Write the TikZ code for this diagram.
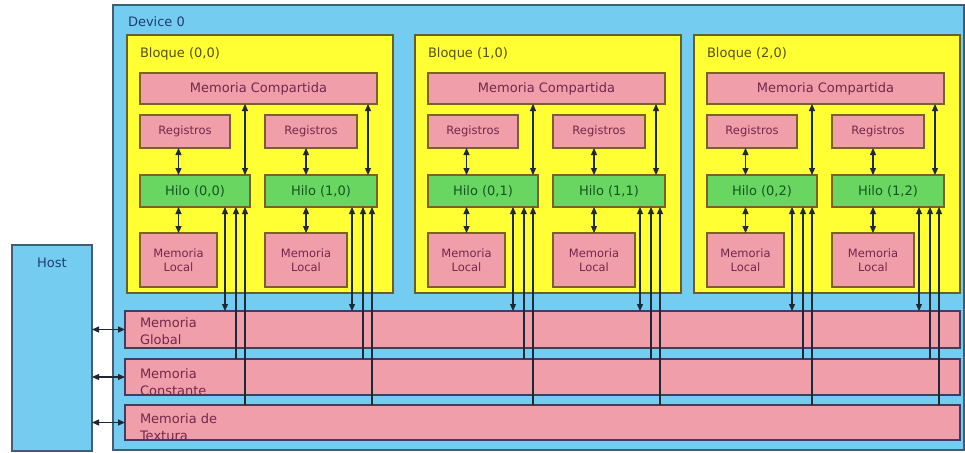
\documentclass[tikz,border=0pt]{standalone}
\usepackage{fontspec}
\setmainfont{DejaVu Sans}
\usetikzlibrary{arrows.meta,calc}

\definecolor{devblue}{RGB}{116,205,240}
\definecolor{devedge}{RGB}{70,90,115}
\definecolor{blockyellow}{RGB}{255,255,51}
\definecolor{blockedge}{RGB}{105,95,40}
\definecolor{cellpink}{RGB}{240,158,170}
\definecolor{celledge}{RGB}{125,95,40}
\definecolor{threadgreen}{RGB}{104,214,96}
\definecolor{baredge}{RGB}{60,62,100}
\definecolor{wirecol}{RGB}{30,40,55}
\definecolor{pinktext}{RGB}{115,40,75}
\definecolor{greentext}{RGB}{20,85,35}
\definecolor{olivetext}{RGB}{85,80,20}
\definecolor{bluetext}{RGB}{30,60,120}

\newcommand\fsMain{\fontsize{13}{17}\selectfont}
\newcommand\fsSmall{\fontsize{11.5}{14.5}\selectfont}

\tikzset{
  every node/.style={inner sep=0pt, outer sep=0pt},
  devbox/.style={draw=devedge, fill=devblue, line width=1.2pt},
  devlabel/.style={text=bluetext, font=\fsMain},
  blockbox/.style={draw=blockedge, fill=blockyellow, line width=1.4pt},
  blocklabel/.style={text=olivetext, font=\fsMain},
  memcell/.style={draw=celledge, fill=cellpink, line width=1.4pt, text=pinktext, font=\fsMain, align=center},
  smallcell/.style={memcell, font=\fsSmall},
  thread/.style={draw=celledge, fill=threadgreen, line width=1.4pt, text=greentext, font=\fsMain},
  bar/.style={draw=baredge, fill=cellpink, line width=1.4pt},
  bartext/.style={text=pinktext, font=\fsMain, align=left, anchor=north west},
  wire/.style={draw=wirecol, line width=1.1pt},
}

\begin{document}
\begin{tikzpicture}[x=1pt, y=-1pt, >={Triangle[length=7pt,width=6pt]}]
\useasboundingbox (0,0) rectangle (965,452);
\fill[white] (0,0) rectangle (965,452);

% device and host
\node[devbox, anchor=north west, minimum width=851pt, minimum height=445pt] (dev) at (113,5) {};
\node[devlabel, anchor=base west] (devtxt) at (128,27) {Device 0};
\node[devbox, anchor=north west, minimum width=80pt, minimum height=206pt] (host) at (12,245) {};
\node[devlabel, anchor=base] (hosttxt) at (52,267) {Host};

% global, constant and texture memories
\node[bar, anchor=north west, minimum width=835pt, minimum height=37pt] (glob) at (125,311) {};
\node[bar, anchor=north west, minimum width=835pt, minimum height=36pt] (cons) at (125,359) {};
\node[bar, anchor=north west, minimum width=835pt, minimum height=35pt] (tex) at (125,405) {};
\foreach \b/\dy/\txt in {glob/7/{Memoria\\Global}, cons/10/{Memoria\\Constante}, tex/9/{Memoria de\\Textura}}{
  \begin{scope}
    \clip ($(\b.north west)+(0.7,0.7)$) rectangle ($(\b.south east)+(-0.7,-0.7)$);
    \node[bartext] (\b txt) at ($(\b.north west)+(15,\dy)$) {\txt};
  \end{scope}
}

% host links
\foreach \b in {glob,cons,tex}
  \draw[wire,<->] (host.east |- \b.west) -- (\b.west);

% blocks
\foreach \i/\ox in {0/0,1/288,2/567}{
  \node[blockbox, anchor=north west, minimum width=266pt, minimum height=258pt] (blk\i) at (127+\ox,35) {};
  \node[blocklabel, anchor=base west] (blt\i) at (140+\ox,58) {Bloque (\i,0)};
  \node[memcell, anchor=north west, minimum width=237pt, minimum height=31pt] (cmp\i) at (140+\ox,73) {Memoria Compartida};
  \node[smallcell, anchor=north west, minimum width=90pt, minimum height=33pt] (regA\i) at (140+\ox,115) {Registros};
  \node[smallcell, anchor=north west, minimum width=92pt, minimum height=33pt] (regB\i) at (265+\ox,115) {Registros};
  \node[thread, anchor=north west, minimum width=110pt, minimum height=32pt] (hA\i) at (140+\ox,175) {Hilo (0,\i)};
  \node[thread, anchor=north west, minimum width=112pt, minimum height=32pt] (hB\i) at (265+\ox,175) {Hilo (1,\i)};
  \node[smallcell, anchor=north west, minimum width=77pt, minimum height=54pt] (locA\i) at (140+\ox,233) {Memoria\\Local};
  \node[smallcell, anchor=north west, minimum width=82pt, minimum height=54pt] (locB\i) at (265+\ox,233) {Memoria\\Local};
  \foreach \t/\tof in {A/5,B/9}{
    \draw[wire,<->] (reg\t\i.south -| loc\t\i.north) -- (h\t\i.north -| loc\t\i.north);
    \draw[wire,<->] (h\t\i.south -| loc\t\i.north) -- (loc\t\i.north);
    \coordinate (top\t\i) at ($(h\t\i.north east)+(-\tof,0)$);
    \draw[wire,<->] (top\t\i |- cmp\i.south) -- (top\t\i);
    \coordinate (g\t\i) at ($(h\t\i.south east)+(-25,0)$);
    \coordinate (c\t\i) at ($(h\t\i.south east)+(-14,0)$);
    \coordinate (x\t\i) at ($(h\t\i.south east)+(-5,0)$);
    \draw[wire,<->] (g\t\i) -- (g\t\i |- glob.north);
    \draw[wire,<-] (c\t\i) -- (c\t\i |- cons.north);
    \draw[wire,<-] (x\t\i) -- (x\t\i |- tex.north);
  }
}
\end{tikzpicture}
\end{document}
